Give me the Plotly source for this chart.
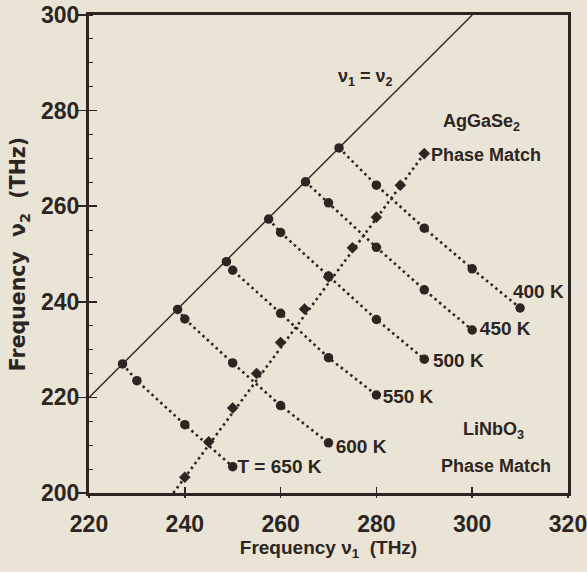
import plotly.graph_objects as go

# ---- data ----
diag_nu1 = [220, 300]
diag_nu2 = [220, 300]

temp_labels = ["T = 650 K", "600 K", "550 K", "500 K", "450 K", "400 K"]
nu1_650 = [227.0, 230, 240, 250]
nu2_650 = [227.0, 223.5, 214.3, 205.5]
nu1_600 = [238.5, 240, 250, 260, 270]
nu2_600 = [238.4, 236.4, 227.2, 218.3, 210.5]
nu1_550 = [248.7, 250, 260, 270, 280]
nu2_550 = [248.4, 246.6, 237.6, 228.3, 220.5]
nu1_500 = [257.5, 260, 270, 280, 290]
nu2_500 = [257.3, 254.5, 245.4, 236.3, 228.0]
nu1_450 = [265.2, 270, 280, 290, 300]
nu2_450 = [265.1, 260.7, 251.4, 242.5, 234.1]
nu1_400 = [272.2, 280, 290, 300, 310]
nu2_400 = [272.2, 264.4, 255.4, 246.9, 238.7]

# AgGaSe2 phase-match curve: line start at the axis, then diamond markers
pm_line_nu1 = [237.6, 290]
pm_line_nu2 = [200.0, 271.0]
pm_nu1 = [240, 245, 250, 255, 260, 265, 270, 275, 280, 285, 290]
pm_nu2 = [203.3, 210.7, 217.8, 225.0, 231.5, 238.5, 245.2, 251.3, 257.7, 264.4, 271.0]

x_ticks = [220, 240, 260, 280, 300, 320]
y_ticks = [200, 220, 240, 260, 280, 300]

# label anchor positions (data coords)
label_x = [251.0, 271.5, 281.3, 291.8, 301.6, 308.5]
label_y = [205.2, 209.4, 219.9, 227.4, 234.1, 241.8]

INK = "#2d2521"
BG = "#e9e4d6"
FONT = "Liberation Sans Narrow, Arial Narrow, Liberation Sans, sans-serif"
DOTS = "2.5px,3.5px"

fig = go.Figure()

fig.add_trace(go.Scatter(x=diag_nu1, y=diag_nu2, mode="lines",
                         line=dict(color=INK, width=1.4), hoverinfo="skip",
                         showlegend=False))

series = [(nu1_650, nu2_650), (nu1_600, nu2_600), (nu1_550, nu2_550),
          (nu1_500, nu2_500), (nu1_450, nu2_450), (nu1_400, nu2_400)]
for xs, ys in series:
    fig.add_trace(go.Scatter(x=xs, y=ys, mode="lines+markers",
                             line=dict(color=INK, width=2.6, dash=DOTS),
                             marker=dict(symbol="circle", size=9.5, color=INK,
                                         line=dict(width=0)),
                             showlegend=False))

fig.add_trace(go.Scatter(x=pm_line_nu1, y=pm_line_nu2, mode="lines",
                         line=dict(color=INK, width=2.6, dash=DOTS),
                         showlegend=False))
fig.add_trace(go.Scatter(x=pm_nu1, y=pm_nu2, mode="markers",
                         marker=dict(symbol="diamond", size=8.5, color=INK,
                                     line=dict(width=0.5, color=INK)),
                         showlegend=False))

fig.add_trace(go.Scatter(x=label_x, y=label_y, mode="text", text=temp_labels,
                         textposition="middle right",
                         textfont=dict(family=FONT, size=19, color=INK, weight="bold"),
                         showlegend=False))

ann_font = dict(family=FONT, size=18, color=INK, weight="bold")
fig.add_annotation(x=277.7, y=287, text="ν<sub>1</sub> = ν<sub>2</sub>", showarrow=False,
                   font=ann_font)
fig.add_annotation(x=301.9, y=277.6, text="AgGaSe<sub>2</sub>", showarrow=False, font=ann_font)
fig.add_annotation(x=291.0, y=270.8, text="Phase Match", showarrow=False, font=ann_font,
                   xanchor="left")
fig.add_annotation(x=304.5, y=213.0, text="LiNbO<sub>3</sub>", showarrow=False, font=ann_font)
fig.add_annotation(x=305.0, y=205.6, text="Phase Match", showarrow=False, font=ann_font)

tick_font = dict(family=FONT, size=23, color=INK, weight="bold")
fig.update_xaxes(range=[220, 320], tickvals=x_ticks, ticks="inside", ticklen=6,
                 tickwidth=1.5, tickcolor=INK, showline=True, linewidth=3,
                 linecolor=INK, mirror=True, showgrid=False, zeroline=False,
                 tickfont=tick_font, automargin=False, ticklabelstandoff=8,
                 ticklabeloverflow="allow",
                 title=dict(text="Frequency ν<sub>1</sub>  (THz)", standoff=0,
                            font=dict(family=FONT, size=19, color=INK, weight="bold")))
fig.update_yaxes(range=[200, 300], tickvals=y_ticks, ticks="outside", ticklen=8,
                 tickwidth=1.5, tickcolor=INK, showline=True, linewidth=3,
                 linecolor=INK, mirror=True, showgrid=False, zeroline=False,
                 tickfont=tick_font, automargin=False, ticklabelstandoff=-6,
                 ticklabeloverflow="allow",
                 minor=dict(dtick=5, ticks="inside", ticklen=4, tickwidth=1, tickcolor=INK),
                 title=dict(text="Frequency  ν<sub>2</sub>  (THz)", standoff=10,
                            font=dict(family="DejaVu Sans, sans-serif", size=20.5,
                                      color=INK, weight="bold")))

# overlay axes for the other half of the crossing ticks
fig.update_layout(
    xaxis2=dict(overlaying="x", matches="x", range=[220, 320], tickvals=x_ticks,
                ticks="outside", ticklen=4, tickwidth=1.5, tickcolor=INK,
                showticklabels=False, showgrid=False, zeroline=False, side="bottom",
                automargin=False),
    yaxis2=dict(overlaying="y", matches="y", range=[200, 300], tickvals=y_ticks,
                ticks="inside", ticklen=8, tickwidth=1.5, tickcolor=INK,
                showticklabels=False, showgrid=False, zeroline=False, side="left",
                automargin=False),
)
fig.add_trace(go.Scatter(x=[None], y=[None], xaxis="x2", yaxis="y2", showlegend=False))

fig.update_layout(width=587, height=572,
                  margin=dict(l=89, r=19, t=15, b=79, autoexpand=False),
                  paper_bgcolor=BG, plot_bgcolor=BG)

# remove the default 8px page margin so the figure fills the window exactly
fig.write_html("out.html",
               config={"displayModeBar": False, "staticPlot": True},
               post_script="document.body.style.margin='0';"
                           "document.body.style.background='" + BG + "';")
